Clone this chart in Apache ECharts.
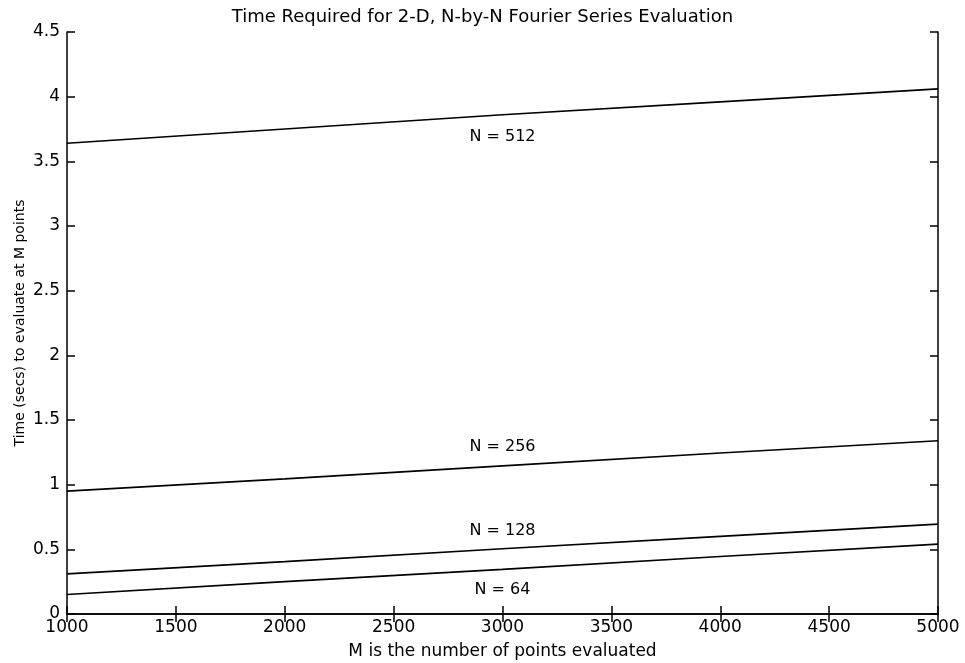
<!DOCTYPE html>
<html><head><meta charset="utf-8">
<script src="https://cdn.jsdelivr.net/npm/echarts@6/dist/echarts.min.js"></script>
<style>html,body{margin:0;padding:0;background:#fff}#c{width:965px;height:663px}</style>
</head><body><div id="c"></div>
<script>
var M = [1000, 2000, 3000, 4000, 5000];
var seriesNames = ['N = 512', 'N = 256', 'N = 128', 'N = 64'];
var t512 = [3.64, 3.75, 3.86, 3.96, 4.06];
var t256 = [0.95, 1.045, 1.145, 1.245, 1.34];
var t128 = [0.31, 0.405, 0.505, 0.60, 0.695];
var t64  = [0.151, 0.25, 0.345, 0.445, 0.54];
var labelX = [3000, 3000, 3000, 3000];
var labelY = [3.69, 1.29, 0.64, 0.184];
var xTicks = [1000, 1500, 2000, 2500, 3000, 3500, 4000, 4500, 5000];
var yTicks = [0, 0.5, 1, 1.5, 2, 2.5, 3, 3.5, 4, 4.5];

var FONT = 'DejaVu Sans';
function pairs(ys){ return M.map(function(m,i){ return [m, ys[i]]; }); }
var lineData = [t512, t256, t128, t64];
var series = lineData.map(function(ys, i){
  return { name: seriesNames[i], type: 'line', data: pairs(ys), symbol: 'none',
    lineStyle: { color: '#000', width: 1.6 }, silent: true, animation: false };
});
series.push({
  type: 'scatter', symbolSize: 1, animation: false, silent: true,
  itemStyle: { color: 'rgba(0,0,0,0)' },
  data: seriesNames.map(function(n, i){ return [labelX[i], labelY[i], n]; }),
  label: { show: true, position: 'inside', formatter: function(p){ return p.data[2]; },
    color: '#000', opacity: 1, textBorderWidth: 0, fontFamily: FONT, fontSize: 16 }
});
var tickCommon = { inside: true, length: 8, lineStyle: { color: '#000', width: 1.5 } };
var option = {
  backgroundColor: '#fff',
  animation: false,
  title: { text: 'Time Required for 2-D, N-by-N Fourier Series Evaluation', left: 'center', top: 3,
    textStyle: { color: '#000', fontFamily: FONT, fontSize: 18, fontWeight: 'normal' } },
  grid: { left: 67, right: 27, top: 32, bottom: 49, containLabel: false, outerBoundsMode: 'none' },
  xAxis: [{
    type: 'value', min: 1000, max: 5000, interval: 500,
    axisLine: { lineStyle: { color: '#000', width: 1.5 } },
    axisTick: tickCommon, splitLine: { show: false },
    axisLabel: { color: '#000', fontFamily: FONT, fontSize: 17, margin: 5,
      formatter: function(v){ return xTicks.indexOf(v) >= 0 ? String(v) : ''; } },
    name: 'M is the number of points evaluated', nameLocation: 'middle', nameGap: 29,
    nameMoveOverlap: false,
    nameTextStyle: { color: '#000', fontFamily: FONT, fontSize: 17 }
  }, {
    type: 'value', position: 'top', min: 1000, max: 5000, interval: 500,
    axisLine: { show: true, lineStyle: { color: '#000', width: 1.5 } },
    axisTick: tickCommon, axisLabel: { show: false }, splitLine: { show: false }
  }],
  yAxis: [{
    type: 'value', min: 0, max: 4.5, interval: 0.5,
    axisLine: { show: true, lineStyle: { color: '#000', width: 1.5 } },
    axisTick: tickCommon, splitLine: { show: false },
    axisLabel: { color: '#000', fontFamily: FONT, fontSize: 17, margin: 7,
      formatter: function(v){ return yTicks.indexOf(v) >= 0 ? String(v) : ''; } },
    name: 'Time (secs) to evaluate at M points', nameLocation: 'middle', nameGap: 40,
    nameMoveOverlap: false,
    nameTextStyle: { color: '#000', fontFamily: FONT, fontSize: 14 }
  }, {
    type: 'value', position: 'right', min: 0, max: 4.5, interval: 0.5,
    axisLine: { show: true, lineStyle: { color: '#000', width: 1.5 } },
    axisTick: tickCommon, axisLabel: { show: false }, splitLine: { show: false }
  }],
  series: series
};
echarts.init(document.getElementById('c')).setOption(option);
</script></body></html>
